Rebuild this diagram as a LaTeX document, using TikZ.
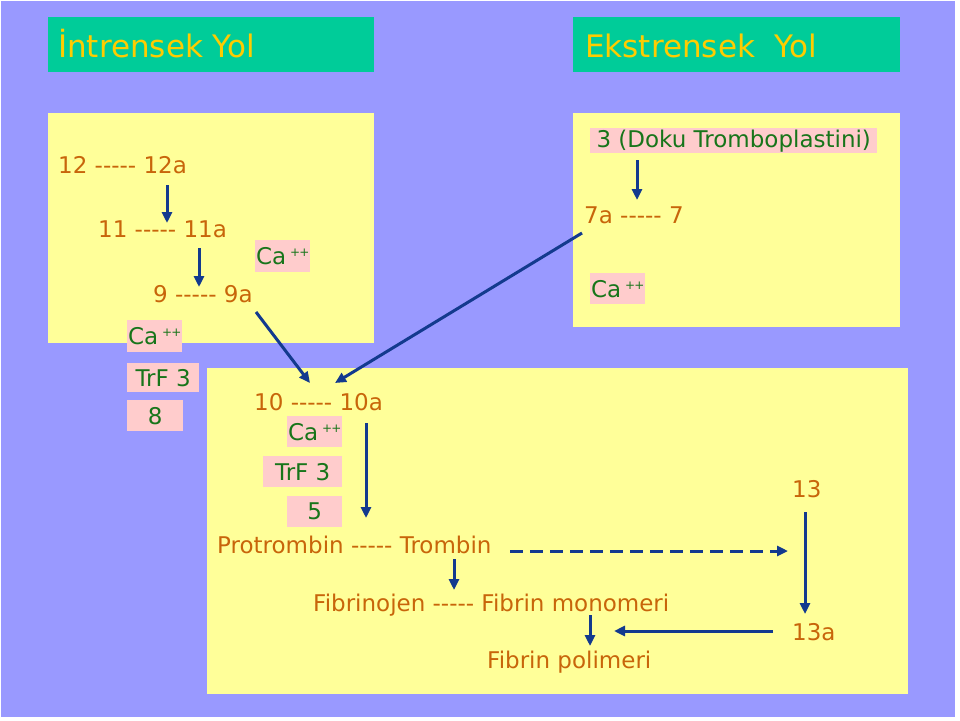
\documentclass[tikz,border=0pt]{standalone}
\usepackage{fontspec}
\setmainfont{DejaVu Sans}
\usetikzlibrary{arrows.meta}
\definecolor{bgblue}{HTML}{9999FF}
\definecolor{titlegreen}{HTML}{00CC99}
\definecolor{titleyellow}{HTML}{FFCC00}
\definecolor{paleyellow}{HTML}{FFFF99}
\definecolor{pinkfill}{HTML}{FFCCCC}
\definecolor{orangetxt}{HTML}{C8650A}
\definecolor{greentxt}{HTML}{18751A}
\definecolor{arrowblue}{HTML}{133A8E}
\newcommand{\capp}{Ca\hspace{4pt}\raisebox{8pt}{\fontsize{12}{12}\selectfont +\kern-1pt+}}
\newcommand{\dsh}{-\kern0pt-\kern0pt-\kern0pt-\kern0pt-}
\begin{document}
\begin{tikzpicture}[x=1pt,y=-1pt,
  titletxt/.style={anchor=base west, inner sep=0pt, font=\fontsize{31}{36}\selectfont, text=titleyellow},
  lbl/.style={anchor=base west, inner sep=0pt, font=\fontsize{23}{28}\selectfont, text=orangetxt},
  pinkbox/.style={fill=pinkfill, inner sep=0pt, text=greentxt, font=\fontsize{23}{28}\selectfont, anchor=north west},
  arr/.style={draw=arrowblue, line width=3pt, -{Triangle[length=11pt,width=10pt]}},
  darr/.style={arr, dash pattern=on 13pt off 7pt}
]
\useasboundingbox (0,0) rectangle (960,720);
\fill[white] (0,0) rectangle (960,720);
\fill[bgblue] (1,1) rectangle (955,717);
% title boxes
\fill[titlegreen] (48,17) rectangle (374,72);
\fill[titlegreen] (573,17) rectangle (900,72);
\node[titletxt] (tint) at (58,57) {İntrensek Yol};
\node[titletxt] (text) at (585,57) {Ekstrensek\ \ Yol};
% yellow panels
\fill[paleyellow] (48,113) rectangle (374,343);
\fill[paleyellow] (573,113) rectangle (900,327);
\fill[paleyellow] (207,368) rectangle (908,694);
% pink boxes
\node[pinkbox, minimum width=55pt, minimum height=32pt] (ca1) at (255,240) {\capp};
\node[pinkbox, minimum width=55pt, minimum height=32pt] (ca2) at (127,320) {\capp};
\node[pinkbox, minimum width=72pt, minimum height=29pt] (trf1) at (127,363) {TrF 3};
\node[pinkbox, minimum width=56pt, minimum height=31pt] (f8) at (127,400) {8};
\node[pinkbox, minimum width=287pt, minimum height=25pt] (doku) at (590,128) {3 (Doku Tromboplastini)};
\node[pinkbox, minimum width=55pt, minimum height=31pt] (ca3) at (590,273) {\capp};
\node[pinkbox, minimum width=55pt, minimum height=31pt] (ca4) at (287,416) {\capp};
\node[pinkbox, minimum width=79pt, minimum height=31pt] (trf2) at (263,456) {TrF 3};
\node[pinkbox, minimum width=55pt, minimum height=31pt] (f5) at (287,496) {5};
% labels
\node[lbl] (n12) at (58,173) {12 \dsh{} 12a};
\node[lbl] (n11) at (98,237) {11 \dsh{} 11a};
\node[lbl] (n9) at (153,302) {9 \dsh{} 9a};
\node[lbl] (n7) at (584,223) {7a \dsh{} 7};
\node[lbl] (n10) at (254,410) {10 \dsh{} 10a};
\node[lbl] (npro) at (217,553) {Protrombin \dsh{} Trombin};
\node[lbl] (n13) at (792,497) {13};
\node[lbl] (n13a) at (792,640) {13a};
\node[lbl] (nfib) at (313,611) {Fibrinojen \dsh{} Fibrin monomeri};
\node[lbl] (npol) at (487,668) {Fibrin polimeri};
% arrow end points
\coordinate (a1s) at (167,185); \coordinate (a1e) at (167,223);
\coordinate (a2s) at (199,248); \coordinate (a2e) at (199,287);
\coordinate (a3s) at (256,312); \coordinate (a3e) at (310,383);
\coordinate (a4s) at (582,233); \coordinate (a4e) at (335,383);
\coordinate (a5s) at (637,160); \coordinate (a5e) at (637,200);
\coordinate (a6s) at (366,423); \coordinate (a6e) at (366,518);
\coordinate (a7s) at (510,551); \coordinate (a7e) at (788,551);
\coordinate (a8s) at (805,512); \coordinate (a8e) at (805,614);
\coordinate (a9s) at (773,631); \coordinate (a9e) at (614,631);
\coordinate (a10s) at (454,559); \coordinate (a10e) at (454,590);
\coordinate (a11s) at (590,615); \coordinate (a11e) at (590,646);
% arrows
\draw[arr] (a1s) -- (a1e);
\draw[arr] (a2s) -- (a2e);
\draw[arr] (a3s) -- (a3e);
\draw[arr] (a4s) -- (a4e);
\draw[arr] (a5s) -- (a5e);
\draw[arr] (a6s) -- (a6e);
\draw[darr] (a7s) -- (a7e);
\draw[arr] (a8s) -- (a8e);
\draw[arr] (a9s) -- (a9e);
\draw[arr] (a10s) -- (a10e);
\draw[arr] (a11s) -- (a11e);
\end{tikzpicture}
\end{document}
